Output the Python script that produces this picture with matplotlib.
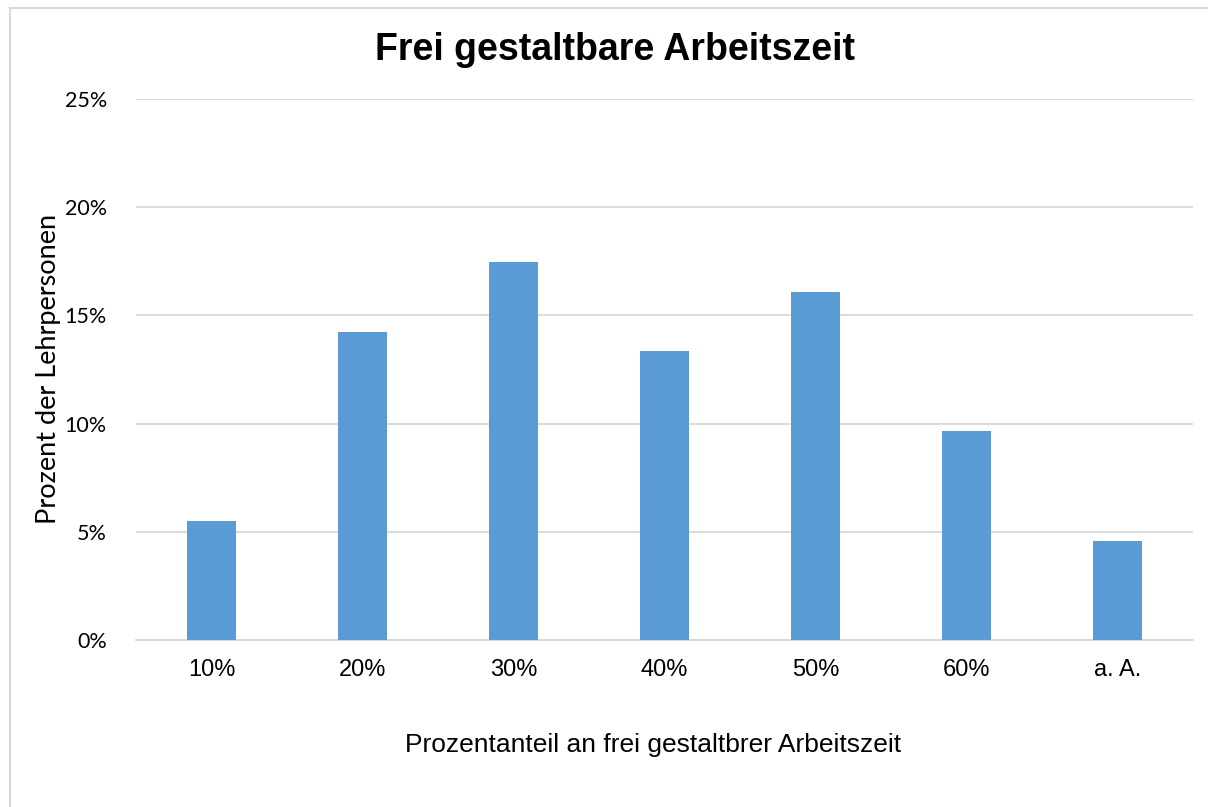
import matplotlib
matplotlib.use("Agg")
import matplotlib.pyplot as plt
from matplotlib.patches import Rectangle
from matplotlib.ticker import FuncFormatter, MultipleLocator

categories = ["10%", "20%", "30%", "40%", "50%", "60%", "a. A."]
values = [5.5, 14.23, 17.47, 13.36, 16.08, 9.66, 4.57]

W, H = 1208, 807
fig = plt.figure(figsize=(W / 100, H / 100), dpi=100)
fig.patches.append(Rectangle((10 / W, -0.2), 1.2, 0.2 + (H - 8) / H, transform=fig.transFigure,
                             fill=False, edgecolor="#d9d9d9", linewidth=1.5, zorder=0))

ax = fig.add_axes([136 / W, (H - 640) / H, (1193 - 136) / W, (640 - 99) / H])
x = range(len(categories))
ax.bar(x, values, width=0.32, color="#5b9bd5", zorder=3)
ax.set_xlim(-0.5, len(categories) - 0.5)
ax.set_ylim(0, 25)
ax.yaxis.set_major_locator(MultipleLocator(5))
ax.yaxis.set_major_formatter(FuncFormatter(lambda v, p: f"{v:.0f}%"))
ax.grid(axis="y", color="#d9d9d9", linewidth=1.3, zorder=0)
ax.set_axisbelow(True)
for s in ["top", "right", "left"]:
    ax.spines[s].set_visible(False)
ax.spines["bottom"].set_color("#d9d9d9")
ax.spines["bottom"].set_linewidth(1.3)
ax.tick_params(axis="both", length=0)
ax.tick_params(axis="y", pad=21)
ax.tick_params(axis="x", pad=14)
ax.set_xticks(list(x))
ax.set_xticklabels(categories, fontsize=17, family="Liberation Sans")
for lab in ax.get_yticklabels():
    lab.set_fontsize(15.5)
    lab.set_family("Lato")

fig.text(615 / W, 1 - 50 / H, "Frei gestaltbare Arbeitszeit", ha="center", va="center",
         fontsize=27, fontweight="bold", family="Liberation Sans")
fig.text(653 / W, 1 - 745 / H, "Prozentanteil an frei gestaltbrer Arbeitszeit", ha="center",
         va="center", fontsize=19, family="Liberation Sans")
fig.text(49 / W, 1 - 369 / H, "Prozent der Lehrpersonen", ha="center", va="center",
         rotation=90, fontsize=19.5, family="Lato")

fig.savefig("out.png", dpi=100)
